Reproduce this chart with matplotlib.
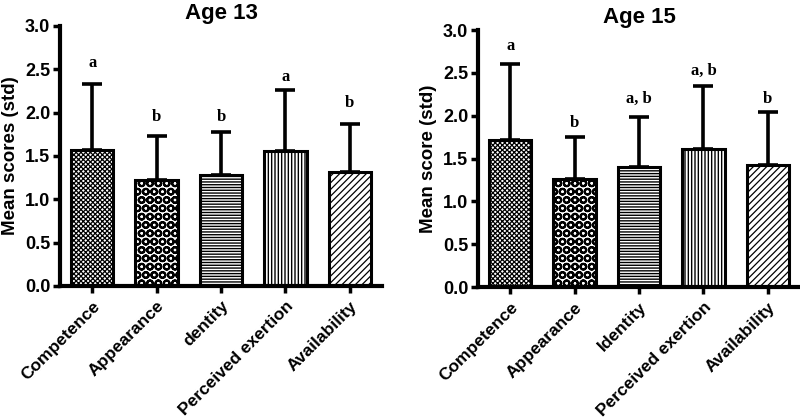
import matplotlib
matplotlib.use("Agg")
import matplotlib.pyplot as plt
import numpy as np

plt.rcParams["font.family"] = ["Liberation Sans", "DejaVu Sans"]
plt.rcParams["font.weight"] = "bold"

labels_13 = ["Competence", "Appearance", "dentity", "Perceived exertion", "Availability"]
labels_15 = ["Competence", "Appearance", "Identity", "Perceived exertion", "Availability"]

means_13 = [1.57, 1.22, 1.28, 1.56, 1.32]
upper_13 = [2.33, 1.73, 1.78, 2.26, 1.87]  # mean + std
letters_13 = ["a", "b", "b", "a", "b"]
letter_y_13 = [2.57, 1.95, 1.95, 2.41, 2.11]

means_15 = [1.72, 1.26, 1.40, 1.61, 1.42]
upper_15 = [2.61, 1.75, 1.98, 2.35, 2.05]
letters_15 = ["a", "b", "a, b", "a, b", "b"]
letter_y_15 = [2.81, 1.91, 2.20, 2.52, 2.20]

hatches = ["xxxxxxx", "OO", "------", "|||||", "/////"]
hatch_lw = [0.9, 1.5, 1.0, 1.0, 0.9]


def draw_panel(ax, labels, means, upper, letters, letter_y, title, ylabel):
    x = np.arange(len(labels))
    err = np.array(upper) - np.array(means)
    ax.errorbar(x, means, yerr=[np.zeros_like(err), err], fmt="none",
                ecolor="black", elinewidth=2.6, capsize=7.5, capthick=2.6, zorder=1)
    for i in range(len(labels)):
        bars = ax.bar(x[i], means[i], width=0.66, color="white", edgecolor="black",
                      linewidth=2.2, hatch=hatches[i], zorder=2)
        for b in bars:
            b.set_hatch_linewidth(hatch_lw[i])
    for i in range(len(labels)):
        ax.text(x[i], letter_y[i], letters[i], ha="center", va="center",
                fontsize=12, family="Liberation Serif", fontweight="bold")
    ax.set_xlim(-0.5, len(labels) - 0.5)
    ax.set_ylim(0, 3.0)
    ax.set_yticks([0, 0.5, 1.0, 1.5, 2.0, 2.5, 3.0])
    ax.set_yticklabels(["0.0", "0.5", "1.0", "1.5", "2.0", "2.5", "3.0"])
    ax.set_xticks(x)
    ax.set_xticklabels(labels, rotation=45, ha="right", rotation_mode="anchor",
                       fontsize=12.5)
    ax.tick_params(axis="y", labelsize=13, width=2.5, length=5, direction="out", pad=2)
    ax.tick_params(axis="x", width=2.5, length=5, direction="out", pad=4)
    for s in ["top", "right"]:
        ax.spines[s].set_visible(False)
    for s in ["left", "bottom"]:
        ax.spines[s].set_linewidth(3)
    ax.set_title(title, fontsize=16, fontweight="bold", pad=5)
    ax.set_ylabel(ylabel, fontsize=13.5, fontweight="bold", labelpad=4)


fig = plt.figure(figsize=(8, 4.18), dpi=100)
ax1 = fig.add_axes([0.075, 0.316, 0.4025, 0.622])
ax2 = fig.add_axes([0.5975, 0.313, 0.4025, 0.615])

draw_panel(ax1, labels_13, means_13, upper_13, letters_13, letter_y_13,
           "Age 13", "Mean scores (std)")
draw_panel(ax2, labels_15, means_15, upper_15, letters_15, letter_y_15,
           "Age 15", "Mean score (std)")

fig.savefig("out.png", dpi=100)
